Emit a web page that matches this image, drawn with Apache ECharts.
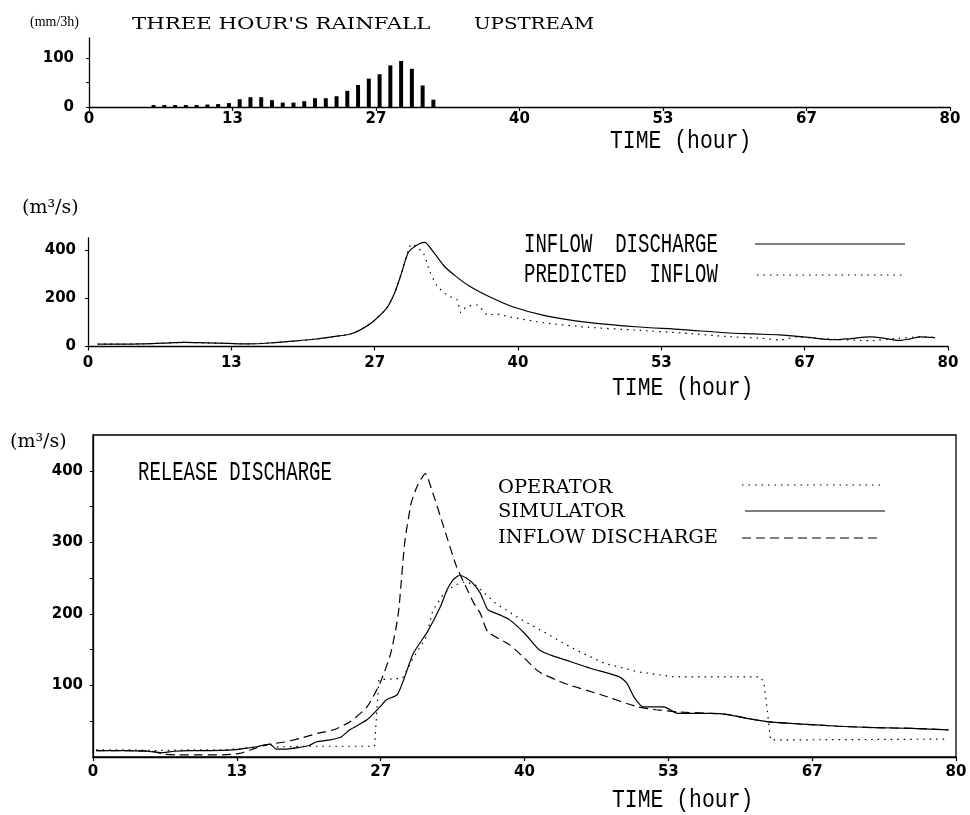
<!DOCTYPE html>
<html lang="en">
<head>
  <meta charset="UTF-8">
  <title>Rainfall and discharge</title>
  <style>
    html, body { margin: 0; padding: 0; background: #fff; }
    #chart { width: 970px; height: 815px; }
  </style>
</head>
<body>
  <div id="chart"></div>
  <script src="https://cdn.jsdelivr.net/npm/echarts@6/dist/echarts.min.js"></script>
  <script>
    // time axis tick labels (hours), the axis is split in 6 equal parts
    const timeTickLabels = ['0', '13', '27', '40', '53', '67', '80']

    // three hour's rainfall upstream, [hour, mm/3h]
    const rainfall = [
      [6, 4], [7, 4], [8, 4], [9, 4], [10, 4], [11, 5], [12, 6], [13, 8], [14, 16],
      [15, 20], [16, 20], [17, 14], [18, 9], [19, 9], [20, 12], [21, 18], [22, 18],
      [23, 22], [24, 33], [25, 45], [26, 58], [27, 67], [28, 85], [29, 94], [30, 78],
      [31, 44], [32, 15]
    ]

    // middle panel, [hour, m3/s]
    const inflowDischarge = [
      [0.9, 10], [3, 10], [5, 11], [7, 14], [9, 17], [11, 15], [13, 13], [15, 11], [17, 15],
      [19, 22], [21, 30], [23, 42], [24.4, 52], [25.3, 68], [26.5, 103], [27.8, 160],
      [28.5, 220], [29.1, 295], [29.8, 390], [30.5, 418], [31.3, 432], [32, 400],
      [33.1, 335], [34.2, 292], [35.5, 250], [37.5, 203], [39.5, 165], [42.5, 128],
      [46.5, 100], [50.9, 82], [55.3, 70], [59.3, 57], [62, 52], [64.3, 48], [67, 38],
      [69.4, 28], [71, 33], [72.7, 40], [74, 35], [75.4, 25], [76.5, 32], [77.4, 40], [78.8, 37]
    ]
    const predictedInflow = [
      [0.9, 10], [3, 10], [5, 11], [7, 14], [9, 17], [11, 15], [13, 13], [15, 11], [17, 15],
      [19, 22], [21, 30], [23, 42], [24.4, 52], [25.3, 68], [26.5, 103], [27.8, 160],
      [28.5, 220], [29.1, 295], [29.8, 400], [30.1, 425], [31.2, 386], [31.8, 310],
      [32.5, 250], [33.5, 210], [34.3, 195], [34.7, 140], [35.2, 165], [36.2, 172],
      [37.2, 130], [38, 135], [39.2, 123], [42.5, 98], [46.5, 80], [50.9, 68], [55.3, 56],
      [59.3, 42], [62.7, 34], [64.3, 27], [66, 40], [67.5, 35], [69.4, 30], [72.7, 24],
      [75.4, 34], [77.4, 40], [78.8, 38]
    ]

    // bottom panel, [hour, m3/s]
    const operator = [
      [0.3, 10], [3, 10], [6, 9], [9, 10], [12, 10], [14, 12], [15.5, 15], [16.4, 18],
      [16.8, 14], [19.6, 15], [23, 15], [26.1, 15], [26.5, 108], [28.7, 110], [29.6, 136],
      [30.9, 168], [31.5, 205], [32.5, 228], [33.5, 240], [34.5, 245], [35.5, 240],
      [37.3, 215], [39.7, 192], [42, 173], [44.7, 150], [47.4, 131], [50.5, 119],
      [53.9, 112], [57.3, 112], [61.9, 112], [62.2, 103], [62.5, 66], [62.8, 24],
      [65.7, 24], [79.3, 25]
    ]
    const simulator = [
      [0.3, 9], [3, 9], [5, 8], [6.5, 6], [7.5, 8], [9, 9], [11, 9], [13, 10], [14, 12],
      [15, 14], [16.4, 18], [17, 11], [18, 11], [19, 13], [20, 16], [20.7, 21], [22, 24],
      [23, 28], [23.8, 38], [25.4, 52], [26.6, 70], [27.2, 80], [28.2, 87], [28.8, 108],
      [29.7, 145], [31, 175], [32.2, 210], [32.8, 233], [33.4, 248], [34, 254], [34.6, 250],
      [35.2, 243], [35.9, 229], [36.6, 206], [37.5, 200], [38.6, 192], [40, 173],
      [41.35, 150], [42.5, 142], [43.7, 136], [46.1, 124], [48.8, 112], [49.5, 103],
      [50.15, 84], [51, 70], [52.9, 70], [54.2, 61], [57.3, 61], [59, 59], [60.6, 54],
      [62.7, 49], [65.7, 46], [69.1, 43], [72.5, 41], [75.9, 40], [79.3, 38]
    ]
    const inflowRelease = [
      [0.3, 9], [3.7, 9], [5.5, 8], [6.5, 4], [8, 3], [10, 3], [12, 3], [13.6, 5], [15, 12],
      [16.1, 17], [17.7, 21], [19.2, 26], [20.8, 33], [22.3, 38], [23.8, 49], [25.4, 70],
      [26.6, 103], [27.6, 145], [28.3, 200], [28.9, 300], [29.5, 355], [30.1, 380],
      [30.8, 396], [31.5, 369], [32.5, 322], [33.7, 266], [34.6, 237], [35.3, 215],
      [35.9, 201], [36.6, 175], [38.6, 157], [40, 138], [41.35, 119], [43.7, 103],
      [47.1, 87], [50.5, 70], [52.2, 66], [54.2, 63], [57.3, 61], [59, 59], [60.6, 54],
      [62.7, 49], [65.7, 46], [69.1, 43], [72.5, 41], [75.9, 40], [79.3, 38]
    ]

    const tickPos = timeTickLabels.map((t, i) => i * 80 / (timeTickLabels.length - 1))
    const black = '#000'
    const labelFont = 'DejaVu Sans'
    const dotted = [1.5, 5]
    const dashed = [9, 5]

    function timeAxis(grid, margin) {
      return {
        type: 'value', gridIndex: grid, min: 0, max: 80,
        axisLine: { lineStyle: { color: black, width: 1.3 } },
        axisTick: { customValues: tickPos, length: 4, lineStyle: { color: black, width: 1.2 } },
        axisLabel: {
          customValues: tickPos, margin: margin, color: black,
          fontFamily: labelFont, fontWeight: 'bold', fontSize: 15,
          formatter: v => timeTickLabels[Math.round(v * 6 / 80)]
        },
        splitLine: { show: false }
      }
    }

    function valueAxis(grid, max, ticks, labels, margin) {
      return {
        type: 'value', gridIndex: grid, min: 0, max: max,
        axisLine: { show: true, lineStyle: { color: black, width: 1.3 } },
        axisTick: { show: true, customValues: ticks, length: 3, lineStyle: { color: black } },
        axisLabel: {
          customValues: labels, margin: margin, color: black,
          fontFamily: labelFont, fontWeight: 'bold', fontSize: 15
        },
        splitLine: { show: false }
      }
    }

    function lineSeries(data, x, dash, smooth) {
      return {
        type: 'line', xAxisIndex: x, yAxisIndex: x, data: data,
        showSymbol: false, smooth: smooth, silent: true,
        lineStyle: { color: black, width: 1.2, type: dash }
      }
    }

    function label(text, x, y, font, sx, sy) {
      return {
        type: 'text', x: x, y: y, scaleX: sx || 1, scaleY: sy || 1,
        style: { text: text, font: font, fill: black, align: 'left', verticalAlign: 'middle' }
      }
    }

    function legendLine(x1, x2, y, dash) {
      return {
        type: 'line', shape: { x1: x1, y1: y, x2: x2, y2: y },
        style: { stroke: black, lineWidth: 1.2, lineDash: dash || null }
      }
    }

    const mono = '"Liberation Mono"'
    const chart = echarts.init(document.getElementById('chart'))
    chart.setOption({
      animation: false,
      backgroundColor: '#fff',
      grid: [
        { left: 89, right: 20, top: 38, height: 69 },
        { left: 88, right: 22, top: 238, height: 108.5 },
        { left: 93, right: 14, top: 435, height: 322, show: true, borderColor: black, borderWidth: 1.3 }
      ],
      xAxis: [timeAxis(0, 5), timeAxis(1, 9), timeAxis(2, 8)],
      yAxis: [
        valueAxis(0, 141, [0, 50, 100], [0, 100], 15),
        valueAxis(1, 450, [0, 200, 400], [0, 200, 400], 12),
        valueAxis(2, 450, [50, 100, 150, 200, 250, 300, 350, 400], [100, 200, 300, 400], 10)
      ],
      series: [
        {
          type: 'bar', xAxisIndex: 0, yAxisIndex: 0, data: rainfall,
          barWidth: 4, itemStyle: { color: black }, silent: true
        },
        lineSeries(predictedInflow, 1, dotted, 0.2),
        lineSeries(inflowDischarge, 1, 'solid', 0.3),
        lineSeries(operator, 2, dotted, false),
        lineSeries(simulator, 2, 'solid', 0.2),
        lineSeries(inflowRelease, 2, dashed, 0.2)
      ],
      graphic: [
        label('(mm/3h)', 30, 22, '14px "Liberation Serif"'),
        label("THREE HOUR'S RAINFALL", 132, 25, '17px "DejaVu Serif"', 1.25),
        label('UPSTREAM', 474, 25, '17px "DejaVu Serif"', 1.16),
        label('TIME (hour)', 610, 141, '21px ' + mono, 1.02, 1.25),

        label('(m³/s)', 22, 208, '19px "DejaVu Serif"'),
        label('INFLOW  DISCHARGE', 524, 245, '19px ' + mono, 1, 1.45),
        label('PREDICTED  INFLOW', 524, 275, '19px ' + mono, 1, 1.45),
        legendLine(755, 905, 244),
        legendLine(757, 906, 275, dotted),
        label('TIME (hour)', 612, 388, '21px ' + mono, 1.02, 1.25),

        label('(m³/s)', 10, 442, '19px "DejaVu Serif"'),
        label('RELEASE DISCHARGE', 138, 473, '19px ' + mono, 1, 1.45),
        label('OPERATOR', 498, 488, '18px "DejaVu Serif"', 1.08),
        label('SIMULATOR', 498, 512, '18px "DejaVu Serif"', 1.08),
        label('INFLOW DISCHARGE', 498, 538, '18px "DejaVu Serif"', 1.08),
        legendLine(742, 885, 485, dotted),
        legendLine(745, 885, 511),
        legendLine(742, 882, 538, dashed),
        label('TIME (hour)', 612, 800, '21px ' + mono, 1.02, 1.25)
      ]
    })
  </script>
</body>
</html>
